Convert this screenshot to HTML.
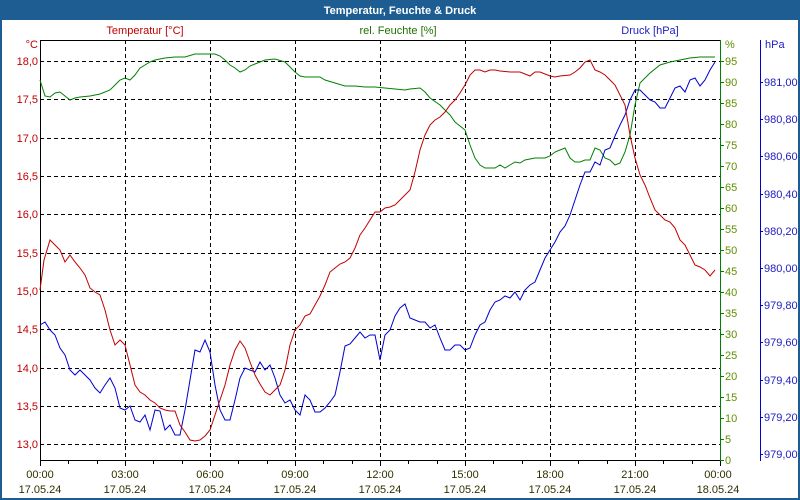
<!DOCTYPE html><html><head><style>body{margin:0}svg{display:block}text{font-family:"Liberation Sans",sans-serif;font-size:11px}</style></head><body>
<svg width="800" height="500" xmlns="http://www.w3.org/2000/svg">
<rect x="0" y="0" width="800" height="500" fill="#1e5d92"/>
<rect x="2" y="20" width="796" height="478" fill="#fff"/>
<text x="400" y="14" fill="#fff" font-weight="bold" text-anchor="middle">Temperatur, Feuchte &amp; Druck</text>
<text x="145" y="34" fill="#c00000" text-anchor="middle">Temperatur [°C]</text>
<text x="398" y="34" fill="#207000" text-anchor="middle">rel. Feuchte [%]</text>
<text x="650" y="34" fill="#2020c0" text-anchor="middle">Druck [hPa]</text>
<g stroke="#000" stroke-dasharray="4,3" stroke-width="1">
<path d="M40 61.5H720M40 99.5H720M40 138.5H720M40 176.5H720M40 214.5H720M40 253.5H720M40 291.5H720M40 329.5H720M40 368.5H720M40 406.5H720M40 444.5H720"/>
<path d="M125.5 40V460M210.5 40V460M295.5 40V460M380.5 40V460M465.5 40V460M550.5 40V460M635.5 40V460"/>
</g>
<path d="M40.5 40V460.5H720M40 40.5H720" stroke="#000" fill="none"/>
<path d="M40.5 460V466M68.5 460V464M97.5 460V464M125.5 460V466M153.5 460V464M182.5 460V464M210.5 460V466M238.5 460V464M267.5 460V464M295.5 460V466M323.5 460V464M352.5 460V464M380.5 460V466M408.5 460V464M437.5 460V464M465.5 460V466M493.5 460V464M522.5 460V464M550.5 460V466M578.5 460V464M607.5 460V464M635.5 460V466M663.5 460V464M692.5 460V464M720.5 460V466" stroke="#000"/>
<path d="M720.5 40V461" stroke="#008000"/>
<path d="M760.5 40V461" stroke="#0000d0"/>
<g fill="#c00000" text-anchor="end">
<text x="38" y="48">°C</text><text x="38" y="65">18,0</text><text x="38" y="103">17,5</text><text x="38" y="142">17,0</text><text x="38" y="180">16,5</text><text x="38" y="218">16,0</text><text x="38" y="257">15,5</text><text x="38" y="295">15,0</text><text x="38" y="333">14,5</text><text x="38" y="372">14,0</text><text x="38" y="410">13,5</text><text x="38" y="448">13,0</text>
</g>
<g stroke="#008000"><path d="M720 61.5h4M720 82.5h4M720 103.5h4M720 124.5h4M720 145.5h4M720 166.5h4M720 187.5h4M720 208.5h4M720 229.5h4M720 250.5h4M720 271.5h4M720 292.5h4M720 313.5h4M720 334.5h4M720 355.5h4M720 376.5h4M720 397.5h4M720 418.5h4M720 439.5h4M720 460.5h4"/></g>
<g fill="#609000">
<text x="725" y="48">%</text><text x="725" y="65">95</text><text x="725" y="86">90</text><text x="725" y="107">85</text><text x="725" y="128">80</text><text x="725" y="149">75</text><text x="725" y="170">70</text><text x="725" y="191">65</text><text x="725" y="212">60</text><text x="725" y="233">55</text><text x="725" y="254">50</text><text x="725" y="275">45</text><text x="725" y="296">40</text><text x="725" y="317">35</text><text x="725" y="338">30</text><text x="725" y="359">25</text><text x="725" y="380">20</text><text x="725" y="401">15</text><text x="725" y="422">10</text><text x="725" y="443">5</text><text x="725" y="464">0</text>
</g>
<g stroke="#0000d0"><path d="M760 82.5h3M760 119.5h3M760 156.5h3M760 194.5h3M760 231.5h3M760 268.5h3M760 305.5h3M760 342.5h3M760 380.5h3M760 417.5h3M760 454.5h3"/></g>
<g fill="#2020c0">
<text x="765" y="48">hPa</text><text x="764" y="86">981,00</text><text x="764" y="123">980,80</text><text x="764" y="160">980,60</text><text x="764" y="198">980,40</text><text x="764" y="235">980,20</text><text x="764" y="272">980,00</text><text x="764" y="309">979,80</text><text x="764" y="346">979,60</text><text x="764" y="384">979,40</text><text x="764" y="421">979,20</text><text x="764" y="458">979,00</text>
</g>
<g fill="#303000" text-anchor="middle">
<text x="40" y="478">00:00</text><text x="125" y="478">03:00</text><text x="210" y="478">06:00</text><text x="295" y="478">09:00</text><text x="380" y="478">12:00</text><text x="465" y="478">15:00</text><text x="550" y="478">18:00</text><text x="635" y="478">21:00</text><text x="718" y="478">00:00</text>
<text x="40" y="493">17.05.24</text><text x="125" y="493">17.05.24</text><text x="210" y="493">17.05.24</text><text x="295" y="493">17.05.24</text><text x="380" y="493">17.05.24</text><text x="465" y="493">17.05.24</text><text x="550" y="493">17.05.24</text><text x="635" y="493">17.05.24</text><text x="718" y="493">18.05.24</text>
</g>
<polyline fill="none" stroke="#008000" points="40,80 45,96 50,97 55,93 60,92 65,96 70,100 75,98 80,97 90,96 100,94 110,90 115,85 120,80 125,78 130,80 135,75 140,68 145,65 150,62 155,60 165,58 175,57 185,57 195,54 205,54 215,54 220,56 225,60 230,65 235,68 240,72 245,70 250,66 255,64 260,62 265,60 275,59 285,62 290,67 295,72 300,76 305,77 320,77 325,80 335,83 345,86 355,86 365,87 375,87 385,88 395,89 405,90 410,89 420,88 425,92 430,98 440,105 450,115 455,122 460,126 465,130 470,145 475,158 480,165 485,168 495,168 500,165 505,168 510,165 515,162 520,163 525,160 535,158 545,158 550,156 555,152 560,150 565,148 570,158 575,162 580,162 585,160 590,160 595,148 600,150 605,158 610,160 615,165 620,163 625,152 630,135 635,105 640,83 650,73 660,65 670,62 680,60 690,58 700,57 715,57"/>
<polyline fill="none" stroke="#0000d0" points="40,325 45,322 50,330 55,335 60,348 65,355 70,370 75,375 80,370 85,375 90,380 95,388 100,393 105,385 110,378 115,388 120,408 125,410 130,406 135,420 140,422 145,415 150,430 155,410 160,411 165,430 170,425 175,435 180,435 185,410 190,380 195,350 200,352 205,340 210,352 215,385 220,410 225,420 230,420 235,400 240,378 245,368 250,370 255,372 260,362 265,370 270,365 275,378 280,395 285,403 290,400 295,410 300,415 305,395 310,400 315,412 320,412 325,408 330,402 335,395 340,372 345,346 350,344 355,338 360,332 365,338 370,335 375,335 380,360 385,335 390,330 395,316 400,308 405,304 410,318 415,320 420,322 425,322 430,328 435,325 440,338 445,350 450,350 455,345 460,345 465,350 470,348 475,335 480,325 485,322 490,310 495,302 500,300 505,296 510,298 515,292 520,300 525,290 530,285 535,282 540,270 545,258 550,250 555,242 560,232 565,226 570,215 575,200 580,185 585,172 590,172 595,162 600,165 605,150 610,148 615,136 620,125 625,115 630,100 635,90 640,90 645,95 650,100 655,102 660,108 665,108 670,98 675,88 680,86 685,92 690,80 695,78 700,86 705,80 710,70 715,62"/>
<polyline fill="none" stroke="#c00000" points="40,290 44,260 50,240 55,245 60,250 65,262 70,255 75,262 80,268 85,275 90,288 95,292 100,295 105,310 110,330 115,345 120,340 125,345 130,365 135,385 140,392 145,395 150,400 155,403 160,408 165,410 170,411 175,411 180,425 185,432 190,440 195,441 200,440 205,436 210,430 215,415 220,400 225,385 230,365 235,350 240,341 245,348 250,362 255,375 260,384 265,392 270,395 275,390 280,385 285,370 290,345 295,330 300,325 305,316 310,314 315,305 320,296 325,285 330,272 335,268 340,264 345,262 350,258 355,248 360,235 365,228 370,220 375,212 380,212 385,208 390,207 395,205 400,200 405,195 410,190 415,172 420,150 425,135 430,125 435,120 440,117 445,112 450,105 455,100 460,93 465,85 470,75 475,70 480,70 485,72 490,70 495,70 500,71 510,72 520,72 525,74 530,76 535,72 540,72 545,74 550,76 555,77 560,76 570,75 575,72 580,68 585,62 590,60 595,70 600,72 605,75 610,80 615,85 620,95 625,105 630,135 635,158 640,175 645,185 650,198 655,210 660,215 665,220 670,222 675,228 680,240 685,245 690,255 695,265 700,267 705,270 710,276 715,270"/>
</svg>
</body></html>
